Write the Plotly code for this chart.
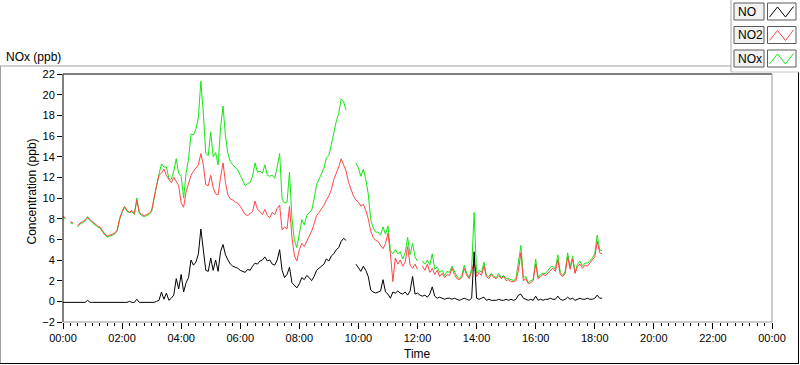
import plotly.graph_objects as go
import pandas as pd

# ---- data (5-minute samples from 00:00) ----
times = pd.date_range("2000-01-01 00:00", periods=220, freq="5min")

no = [
    -0.1, -0.1, -0.1, -0.1, -0.1, -0.1, -0.1, -0.1, -0.1, -0.1, 0.1, -0.1,
    -0.1, -0.1, -0.1, -0.1, -0.1, -0.1, -0.1, -0.1, -0.1, -0.1, -0.1, -0.1,
    -0.1, -0.1, -0.1, 0.0, -0.1, -0.1, 0.2, -0.1, -0.1, -0.1, -0.1, -0.1,
    -0.1, -0.1, 0.0, 0.1, 0.9, 0.2, 0.8, 0.1, 0.3, 0.6, 2.2, 1.2,
    2.6, 0.9, 1.8, 2.3, 4.0, 3.5, 3.8, 4.6, 7.0, 5.0, 3.0, 2.9,
    4.2, 3.0, 4.0, 2.9, 4.8, 5.5, 4.5, 4.0, 3.6, 3.4, 3.3, 3.2,
    3.0, 2.9, 2.8, 3.1, 3.0, 3.4, 3.7, 3.6, 3.9, 4.0, 4.3, 3.9,
    4.0, 3.6, 3.5, 4.0, 5.0, 3.0, 2.3, 2.6, 3.3, 1.8, 1.5, 1.3,
    1.7, 2.3, 2.1, 2.5, 2.3, 2.0, 2.4, 3.0, 3.2, 3.4, 3.6, 4.1,
    3.9, 4.4, 4.6, 5.0, 5.2, 5.8, 6.1, 5.9, None, None, None, 3.6,
    3.3, 2.9, 3.4, 3.0, 2.4, 1.1, 0.9, 0.8, 0.9, 1.0, 2.1, 0.9,
    0.7, 0.3, 0.9, 0.8, 1.0, 0.8, 0.7, 0.9, 0.6, 1.0, 2.4, 0.7,
    0.8, 0.6, 0.5, 0.6, 0.4, 0.7, 1.4, 0.5, 0.3, 0.4, 0.3, 0.2,
    0.3, 0.3, 0.2, 0.3, 0.2, 0.1, 0.2, 0.3, 0.2, 0.1, 0.3, 4.8,
    0.3, 0.2, 0.3, 0.4, 0.1, 0.2, 0.1, 0.1, 0.1, 0.2, 0.1, 0.1,
    0.2, 0.1, 0.2, 0.1, 0.2, 0.6, 0.7, 0.3, 0.2, 0.1, 0.2, 0.1,
    0.5, 0.1, 0.2, 0.1, 0.2, 0.2, 0.3, 0.2, 0.2, 0.5, 0.2, 0.1,
    0.2, 0.4, 0.2, 0.3, 0.1, 0.2, 0.3, 0.2, 0.2, 0.3, 0.2, 0.2,
    0.3, 0.6, 0.3, 0.3,
]

no2 = [
    8.2, 8.1, None, 7.7, 7.6, None, 7.3, 7.6, 7.7, 7.9, 8.1, 7.9,
    7.7, 7.5, 7.3, 7.2, 6.8, 6.5, 6.3, 6.4, 6.5, 6.6, 6.9, 8.0,
    8.7, 9.2, 8.8, 8.6, 8.8, 8.5, 9.8, 8.6, 8.4, 8.3, 8.4, 8.5,
    8.8, 10.2, 11.2, 12.2, 12.4, 12.8, 12.2, 11.8, 11.5, 12.0, 11.6, 11.2,
    9.5, 9.1, 10.6, 11.5, 12.2, 12.6, 12.9, 13.2, 14.3, 13.2, 11.3, 11.2,
    12.2, 11.0, 10.4, 10.3, 12.0, 13.4, 11.5, 10.3, 9.9, 9.8, 9.6, 9.5,
    9.2, 8.8, 8.4, 8.3, 8.5, 8.7, 9.7, 8.9, 8.7, 8.4, 8.9, 8.3,
    8.1, 8.6, 8.4, 9.0, 9.3, 6.9, 7.2, 7.0, 9.2, 6.2, 4.4, 3.9,
    5.0, 5.6, 5.3, 5.8, 6.3, 6.8, 7.5, 8.3, 8.6, 8.9, 9.3, 9.8,
    10.2, 10.8, 11.8, 12.4, 13.0, 13.8, 13.2, 12.6, 11.5, 10.8, 10.2, 9.8,
    9.6, 9.2, 9.4, 8.8, 8.0, 6.8, 6.2, 5.9, 5.8, 5.4, 5.1, 5.6,
    6.6, 4.6, 1.9, 4.2, 3.6, 4.0, 3.4, 3.8, 5.3, 3.5, 3.2, 3.6,
    3.1, None, 3.4, 3.0, 3.6, 2.8, 3.2, 2.6, 3.0, 2.4, 2.7, 2.3,
    2.6, 2.5, 3.2, 2.6, 2.2, 2.1, 2.3, 3.2, 2.5, 2.2, 2.9, 3.8,
    2.4, 2.8, 2.5, 3.4, 2.4, 2.2, 2.6, 2.3, 2.2, 2.5, 2.2, 2.4,
    2.0, 2.1, 1.9, 1.9, 2.0, 3.0, 4.7, 2.0, 2.2, 1.7, 1.8, 2.0,
    3.6, 2.2, 2.4, 2.6, 2.5, 2.8, 3.0, 3.2, 2.9, 4.0, 2.6, 2.4,
    2.7, 4.3, 3.1, 4.1, 2.7, 3.4, 3.6, 3.2, 3.5, 3.4, 3.7, 4.0,
    4.3, 5.8, 4.7, 4.6,
]

nox = [
    8.1, 8.0, None, 7.6, 7.5, None, 7.2, 7.5, 7.6, 7.8, 8.2, 7.8,
    7.6, 7.4, 7.2, 7.1, 6.7, 6.4, 6.2, 6.3, 6.4, 6.5, 6.8, 7.9,
    8.6, 9.1, 8.7, 8.6, 8.7, 8.4, 10.0, 8.5, 8.3, 8.2, 8.3, 8.4,
    8.7, 10.1, 11.2, 12.3, 13.3, 13.0, 13.0, 11.9, 11.8, 12.6, 13.8, 12.4,
    12.1, 10.0, 12.4, 13.8, 16.2, 16.1, 16.7, 17.8, 21.3, 18.2, 14.3, 14.1,
    16.4, 14.0, 14.4, 13.2, 16.8, 18.9, 16.0, 14.3, 13.5, 13.2, 12.9, 12.7,
    12.2, 11.7, 11.2, 11.4, 11.5, 12.1, 13.4, 12.5, 12.6, 12.4, 13.2, 12.2,
    12.1, 12.2, 11.9, 13.0, 14.3, 9.9, 9.5, 9.6, 12.5, 8.0, 5.9, 5.2,
    6.7, 7.9, 7.4, 8.3, 8.6, 8.8, 9.9, 11.3, 11.8, 12.3, 12.9, 13.9,
    14.1, 15.2, 16.4, 17.4, 18.2, 19.6, 19.3, 18.5, None, None, None, 13.4,
    12.9, 12.1, 12.8, 11.8, 10.4, 7.9, 7.1, 6.7, 6.7, 6.4, 7.2, 6.5,
    7.3, 4.9, 4.6, 5.0, 4.6, 4.8, 4.1, 4.7, 6.2, 4.5, 5.6, 4.3,
    3.9, None, 3.9, 3.6, 4.0, 3.5, 4.6, 3.1, 3.3, 2.8, 3.0, 2.5,
    2.9, 2.8, 3.4, 2.9, 2.4, 2.2, 2.5, 3.5, 2.7, 2.3, 3.2, 8.6,
    2.7, 3.0, 2.8, 3.8, 2.5, 2.4, 2.7, 2.4, 2.3, 2.7, 2.3, 2.5,
    2.2, 2.2, 2.1, 2.0, 2.2, 3.6, 5.4, 2.3, 2.4, 1.8, 2.0, 2.1,
    4.1, 2.3, 2.6, 2.7, 2.7, 3.0, 3.3, 3.4, 3.1, 4.5, 2.8, 2.5,
    2.9, 4.7, 3.3, 4.4, 2.8, 3.6, 3.9, 3.4, 3.7, 3.7, 3.9, 4.2,
    4.6, 6.4, 5.0, 4.9,
]

series_names = ["NO", "NO2", "NOx"]
series_colors = {"NO": "#000000", "NO2": "#FF4545", "NOx": "#14E614"}

y_ticks = list(range(-2, 23, 2))

# ---- layout geometry ----
W, H = 800, 365
L, R, T, B = 63, 772, 74, 322
FONT = "Liberation Sans, Arial, sans-serif"


def px(x):
    return (x - L) / (R - L)


def py(y):
    return (B - y) / (B - T)


fig = go.Figure()
for name, vals in [("NOx", nox), ("NO2", no2), ("NO", no)]:
    fig.add_trace(go.Scatter(
        x=times, y=vals, mode="lines", name=name, connectgaps=False,
        line=dict(color=series_colors[name], width=1), hoverinfo="skip",
    ))

shapes = []


def line(x0, y0, x1, y1, color, width=1):
    shapes.append(dict(type="line", xref="paper", yref="paper",
                       x0=px(x0), y0=py(y0), x1=px(x1), y1=py(y1),
                       line=dict(color=color, width=width)))


# plot frame
line(63, 74, 772, 74, "#000000")
line(63, 74, 63, 322, "#000000")
line(772, 74, 772, 322, "#9a9a9a")
line(63, 322, 772, 322, "#9a9a9a")
# outer frame
line(0, 66, 731, 66, "#a0a0a0")
line(0.5, 66, 0.5, 363.5, "#a0a0a0")
line(0, 363.5, 799, 363.5, "#000000")
line(798.5, 72, 798.5, 364, "#000000")
# legend panel
line(731, 0, 731, 72, "#a8a8a8")
line(731, 72, 799, 72, "#c8c8c8")

annotations = []
for k, name in enumerate(series_names):
    dy = 23.5 * k
    shapes.append(dict(type="rect", xref="paper", yref="paper",
                       x0=px(734), x1=px(764), y0=py(3 + dy), y1=py(20 + dy),
                       fillcolor="#f2f2f2", line=dict(color="#5a5a5a", width=1)))
    shapes.append(dict(type="rect", xref="paper", yref="paper",
                       x0=px(767.5), x1=px(796), y0=py(3 + dy), y1=py(20 + dy),
                       fillcolor="#ffffff", line=dict(color="#5a5a5a", width=1)))
    path = "M {:.5f},{:.5f} L {:.5f},{:.5f} L {:.5f},{:.5f} L {:.5f},{:.5f}".format(
        px(769.5), py(17 + dy), px(777.5), py(7 + dy),
        px(785.5), py(17 + dy), px(793.5), py(6.5 + dy))
    shapes.append(dict(type="path", xref="paper", yref="paper", path=path,
                       line=dict(color=series_colors[name], width=1)))
    annotations.append(dict(text=name, x=px(736), y=py(11.8 + dy), xref="paper", yref="paper",
                            xanchor="left", yanchor="middle", showarrow=False,
                            font=dict(family=FONT, size=12, color="#000000")))

annotations += [
    dict(text="NOx (ppb)", x=px(4), y=py(57), xref="paper", yref="paper",
         xanchor="left", yanchor="middle", showarrow=False,
         font=dict(family=FONT, size=12, color="#000000")),
    dict(text="Concentration (ppb)", x=px(31), y=py(191.5), xref="paper", yref="paper",
         xanchor="center", yanchor="middle", showarrow=False, textangle=-90,
         font=dict(family=FONT, size=12, color="#000000")),
    dict(text="Time", x=px(417.5), y=py(354), xref="paper", yref="paper",
         xanchor="center", yanchor="middle", showarrow=False,
         font=dict(family=FONT, size=12, color="#000000")),
]

fig.update_layout(
    width=W, height=H,
    margin=dict(l=L, r=W - R, t=T, b=H - B, pad=0),
    paper_bgcolor="#ffffff", plot_bgcolor="#ffffff",
    showlegend=False,
    shapes=shapes, annotations=annotations,
    font=dict(family=FONT, size=11, color="#000000"),
    xaxis=dict(
        type="date", range=["2000-01-01 00:00", "2000-01-02 00:00"],
        tick0="2000-01-01 00:00", dtick=7200000, tickformat="%H:%M",
        ticks="outside", ticklen=6, tickcolor="#000000", tickwidth=1,
        showgrid=False, zeroline=False, showline=False,
        tickfont=dict(family=FONT, size=11, color="#000000"),
        minor=dict(ticks="outside", ticklen=3, tickcolor="#000000",
                   dtick=900000, showgrid=False),
    ),
    yaxis=dict(
        range=[-2, 22], tickvals=y_ticks,
        ticks="outside", ticklen=5, tickcolor="#000000", tickwidth=1,
        showgrid=False, zeroline=False, showline=False,
        tickfont=dict(family=FONT, size=11, color="#000000"),
    ),
)

fig.write_html(
    "out.html",
    config={"displayModeBar": False, "staticPlot": True},
    post_script="document.body.style.margin='0px';document.body.style.overflow='hidden';",
)
